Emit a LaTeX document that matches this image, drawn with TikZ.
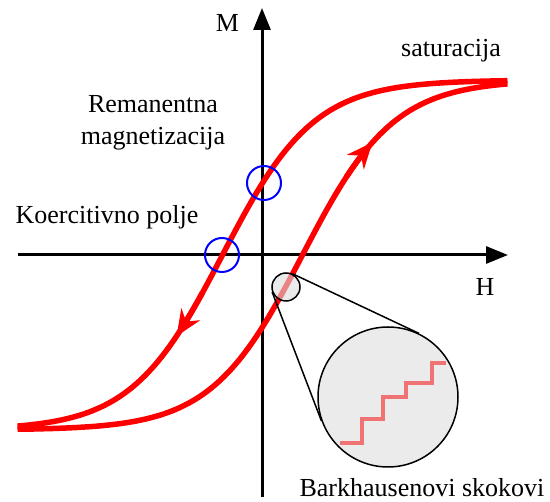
\documentclass[tikz,border=0pt]{standalone}
\usepackage{fontspec}
\setmainfont{Liberation Serif}
\newfontfamily\labelfont{Liberation Serif}
\usetikzlibrary{arrows.meta,calc,positioning}
\definecolor{lensgray}{RGB}{220,220,220}
\definecolor{zoomgray}{RGB}{235,235,235}
\definecolor{stepred}{RGB}{240,115,115}
\tikzset{
  axis/.style={line width=3pt,-{Triangle[length=22pt,width=17pt]}},
  branch/.style={red,line width=5.5pt},
  flow/.style={red,line width=5.5pt,-{Stealth[length=26pt,width=22pt]}},
  mark circle/.style={circle,draw=blue,line width=2pt,minimum size=34pt,inner sep=0pt},
  label/.style={font=\labelfont\fontsize{26}{32}\selectfont,inner sep=0pt,anchor=base}
}
% tanh-like branch, written with exp
\newcommand{\loopM}[1]{175*(1-2/(1+exp(2*(#1)/91.5)))}
\begin{document}
\begin{tikzpicture}[x=1pt,y=-1pt]
  \useasboundingbox (0,0) rectangle (550,502);
  % axes
  \draw[axis] (262,497) -- (262,8);
  \draw[axis] (18,255) -- (508,255);
  % hysteresis loop
  \draw[branch] plot[domain=245:-245,samples=120] ({262.5+\x},{255-\loopM{\x+40}});
  \draw[branch] plot[domain=-245:245,samples=120] ({262.5+\x},{255-\loopM{\x-40}});
  % direction arrows
  \draw[flow] plot[domain=-60:-86,samples=6] ({262.5+\x},{255-\loopM{\x+40}});
  \draw[flow] plot[domain=84:110,samples=6] ({262.5+\x},{255-\loopM{\x-40}});
  % marked points
  \node[mark circle] (remanence) at (264,183) {};
  \node[mark circle] (coercive) at (222,255) {};
  % magnifier
  \node[circle,draw,line width=1.5pt,fill=lensgray,fill opacity=0.6,minimum size=28pt,inner sep=0pt] (lens) at (286,287) {};
  \node[circle,draw,line width=1.5pt,fill=zoomgray,minimum size=140pt,inner sep=0pt] (zoom) at (388,397) {};
  \draw[line width=1.5pt] (lens.64.7) -- (zoom.64.7);
  \draw[line width=1.5pt] (lens.200.9) -- (zoom.200.9);
  % Barkhausen steps
  \draw[stepred,line width=4pt] (340,443) -| (362,419) -| (383,397) -| (406,383) -| (432,363) -- (446,363);
  % labels
  \node[label] (mlabel) at (227.5,32) {M};
  \node[label] (hlabel) at (485,296) {H};
  \node[label] (sat) at (451,57) {saturacija};
  \node[label,anchor=center,align=center] (rem) at (153,123) {Remanentna\\magnetizacija};
  \node[label] (coer) at (107,224) {Koercitivno polje};
  \node[label] (bark) at (422,497) {Barkhausenovi skokovi};
\end{tikzpicture}
\end{document}
